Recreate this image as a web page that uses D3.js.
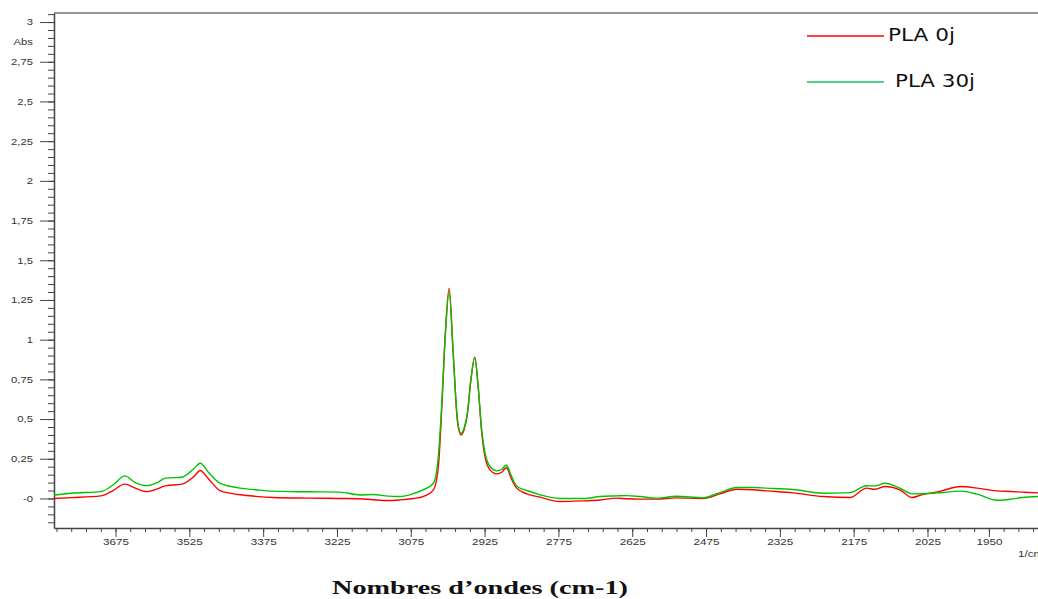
<!DOCTYPE html>
<html lang="fr">
<head>
  <meta charset="utf-8" />
  <title>PLA FTIR</title>
  <script src="https://cdn.jsdelivr.net/npm/d3@7"></script>
  <style>
    body { margin: 0; background: white; }
    .axis path, .axis line { stroke: #444; }
    .axis text { fill: #333; font-family: "Liberation Sans", Arial, sans-serif; font-size: 9px; }
  </style>
</head>
<body>
<script>

// wavenumbers (cm-1), descending
var waves = [3800, 3765, 3705, 3680, 3656, 3635, 3612, 3590, 3574, 3540, 3515, 3503, 3485, 3463,
  3440, 3422, 3390, 3355, 3286, 3219, 3178, 3152, 3121, 3097, 3070, 3050, 3029, 3019, 3012, 3005,
  2997, 2989, 2980, 2973, 2966, 2960, 2953, 2945, 2938, 2931, 2924, 2914, 2900, 2890, 2881, 2870,
  2860, 2839, 2812, 2772, 2724, 2690, 2657, 2636, 2609, 2575, 2535, 2481, 2447, 2412, 2380, 2352,
  2298, 2237, 2182, 2149, 2132, 2111, 2081, 2056, 2037, 2013, 2000, 1979, 1962, 1942, 1928, 1916, 1900];

// PLA 0j (red)
var pla0 = [0.0, 0.005, 0.016, 0.05, 0.09, 0.065, 0.043, 0.06, 0.079, 0.09, 0.14, 0.176, 0.12, 0.05,
  0.032, 0.023, 0.013, 0.006, 0.002, 0.0, -0.002, -0.008, -0.013, -0.009, 0.0, 0.012, 0.054, 0.20, 0.57, 1.03,
  1.324, 0.93, 0.48, 0.40, 0.44, 0.53, 0.74, 0.89, 0.70, 0.42, 0.26, 0.18, 0.155, 0.165, 0.195, 0.12,
  0.065, 0.029, 0.008, -0.019, -0.015, -0.01, 0.002, -0.002, -0.004, -0.004, 0.004, 0.0, 0.029, 0.058, 0.055, 0.048,
  0.035, 0.012, 0.006, 0.065, 0.058, 0.075, 0.054, 0.006, 0.023, 0.037, 0.045, 0.075, 0.065, 0.048, 0.044, 0.04, 0.035];

// PLA 30j (green)
var pla30 = [0.02, 0.033, 0.043, 0.085, 0.142, 0.10, 0.081, 0.10, 0.128, 0.134, 0.19, 0.222, 0.16, 0.096,
  0.075, 0.065, 0.055, 0.046, 0.042, 0.040, 0.022, 0.025, 0.015, 0.012, 0.03, 0.054, 0.096, 0.264, 0.60, 1.02,
  1.303, 0.915, 0.495, 0.411, 0.45, 0.537, 0.747, 0.887, 0.705, 0.432, 0.285, 0.201, 0.174, 0.184, 0.211, 0.138,
  0.079, 0.05, 0.023, 0.0, 0.0, 0.012, 0.016, 0.018, 0.012, 0.002, 0.014, 0.004, 0.037, 0.069, 0.069, 0.065,
  0.056, 0.033, 0.037, 0.08, 0.079, 0.096, 0.065, 0.029, 0.03, 0.033, 0.036, 0.046, 0.027, -0.011, -0.005, 0.006, 0.012];

var xMajor = [3675, 3525, 3375, 3225, 3075, 2925, 2775, 2625, 2475, 2325, 2175, 2025, 1950];
var xMinor = d3.range(3795, 2024, -30).concat([2010], d3.range(1995, 1900, -15));
var yMajor = [0, 0.25, 0.5, 0.75, 1, 1.25, 1.5, 1.75, 2, 2.25, 2.5, 2.75, 3];
var yLabels = ["-0", "0,25", "0,5", "0,75", "1", "1,25", "1,5", "1,75", "2", "2,25", "2,5", "2,75", "3"];
var yMinor = d3.range(-0.15, 3.06, 0.05);

var series = [
  {name: "PLA 0j", values: pla0, color: "#ff0000", legend: "#ff0000"},
  {name: "PLA 30j", values: pla30, color: "#00c400", legend: "#1cc25c"}
];

var w = 1038, h = 599;
var svg = d3.select("body").append("svg").attr("width", w).attr("height", h);

// the spectrum axis is expanded x2 below 2000 cm-1
var x = d3.scaleLinear().domain([3800, 2000, 1900]).range([54, 939.8, 1038]);
var y = d3.scaleLinear().domain([-0.186, 3.057]).range([528, 13]);

function stretch(sel, k) {
  sel.each(function() {
    var len = this.getComputedTextLength();
    d3.select(this).attr("textLength", len * k).attr("lengthAdjust", "spacingAndGlyphs");
  });
}

// frame top line
svg.append("line").attr("x1", 54).attr("x2", w).attr("y1", 13).attr("y2", 13)
   .attr("stroke", "#333").attr("stroke-width", 1.2);

// minor ticks
svg.append("g").attr("class", "axis")
   .attr("transform", "translate(0,528)")
   .call(d3.axisBottom(x).tickValues(xMinor).tickSize(4).tickFormat(""))
   .select(".domain").remove();
svg.append("g").attr("class", "axis")
   .attr("transform", "translate(54,0)")
   .call(d3.axisLeft(y).tickValues(yMinor).tickSize(6).tickFormat(""))
   .select(".domain").remove();

var xAxis = svg.append("g").attr("class", "axis")
   .attr("transform", "translate(0,528)")
   .call(d3.axisBottom(x).tickValues(xMajor).tickSize(9).tickPadding(2).tickSizeOuter(0).tickFormat(d3.format("d")));
xAxis.select(".domain").attr("stroke-width", 1.5);
xAxis.selectAll("text").call(stretch, 1.3);

var yAxis = svg.append("g").attr("class", "axis")
   .attr("transform", "translate(54,0)")
   .call(d3.axisLeft(y).tickValues(yMajor).tickSize(14).tickPadding(7).tickSizeOuter(0)
         .tickFormat(function(d, i) { return yLabels[i]; }));
yAxis.select(".domain").attr("stroke-width", 1.5);
yAxis.selectAll("text").call(stretch, 1.25);

svg.append("text").attr("x", 33).attr("y", 45).attr("text-anchor", "end")
   .attr("fill", "#333").style("font-family", "Liberation Sans, Arial, sans-serif").style("font-size", "9px")
   .text("Abs").call(stretch, 1.25);

svg.append("text").attr("x", 1018).attr("y", 557)
   .attr("fill", "#333").style("font-family", "Liberation Sans, Arial, sans-serif").style("font-size", "9px")
   .text("1/cm").call(stretch, 1.3);

var line = d3.line()
   .x(function(d) { return x(d[0]); })
   .y(function(d) { return y(d[1]); })
   .curve(d3.curveMonotoneX);

series.forEach(function(s) {
  var pts = waves.map(function(wv, i) { return [wv, s.values[i]]; });
  svg.append("path").datum(pts)
     .attr("d", line)
     .attr("fill", "none")
     .attr("stroke", s.color)
     .attr("stroke-width", 1.4);
});

// legend
var legend = [
  {ly: 36, tx: 888, ty: 41, tl: 67},
  {ly: 82, tx: 895, ty: 87, tl: 80}
];
legend.forEach(function(l, i) {
  svg.append("line").attr("x1", 807).attr("x2", 884).attr("y1", l.ly).attr("y2", l.ly)
     .attr("stroke", series[i].legend).attr("stroke-width", 1.5);
  svg.append("text").attr("x", l.tx).attr("y", l.ty)
     .style("font-family", "DejaVu Sans, sans-serif").style("font-size", "17px")
     .attr("fill", "#111")
     .attr("textLength", l.tl).attr("lengthAdjust", "spacingAndGlyphs")
     .text(series[i].name);
});

// axis title
svg.append("text").attr("x", 332).attr("y", 594)
   .style("font-family", "Liberation Serif, Times New Roman, serif")
   .style("font-size", "19px").style("font-weight", "bold")
   .attr("fill", "#111")
   .attr("textLength", 296).attr("lengthAdjust", "spacingAndGlyphs")
   .text("Nombres d\u2019ondes (cm-1)");

</script>
</body>
</html>
